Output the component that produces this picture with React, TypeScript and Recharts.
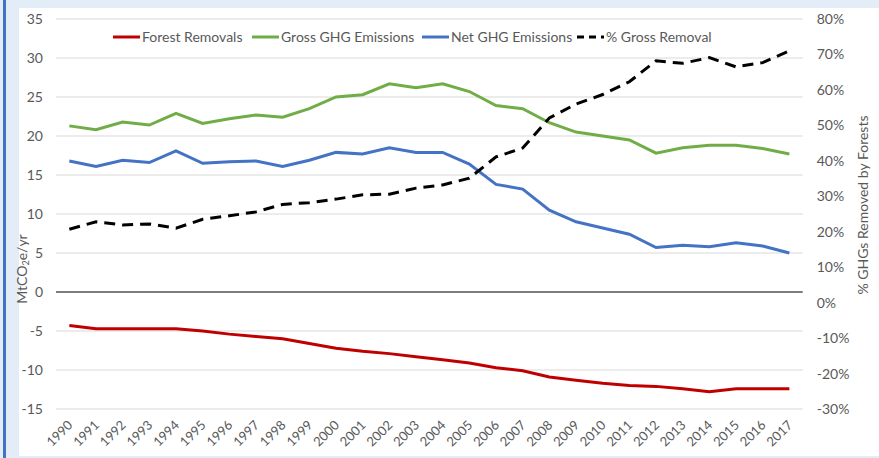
import React from "react";
import { LineChart, Line, XAxis, YAxis, CartesianGrid, ReferenceLine, Legend } from "recharts";

const years = ["1990","1991","1992","1993","1994","1995","1996","1997","1998","1999","2000","2001","2002","2003","2004","2005","2006","2007","2008","2009","2010","2011","2012","2013","2014","2015","2016","2017"];
const forestRemovals = [-4.3,-4.7,-4.7,-4.7,-4.7,-5.0,-5.4,-5.7,-6.0,-6.6,-7.2,-7.6,-7.9,-8.3,-8.7,-9.1,-9.7,-10.1,-10.9,-11.3,-11.7,-12.0,-12.1,-12.4,-12.8,-12.4,-12.4,-12.4];
const grossEmissions = [21.3,20.8,21.8,21.4,22.9,21.6,22.2,22.7,22.4,23.5,25.0,25.3,26.7,26.2,26.7,25.7,23.9,23.5,21.7,20.5,20.0,19.5,17.8,18.5,18.8,18.8,18.4,17.7];
const netEmissions = [16.8,16.1,16.9,16.6,18.1,16.5,16.7,16.8,16.1,16.9,17.9,17.7,18.5,17.9,17.9,16.4,13.8,13.2,10.5,9.0,8.2,7.4,5.7,6.0,5.8,6.3,5.9,5.0];
const pctGrossRemoval = [20.7,22.8,21.9,22.2,21.0,23.5,24.5,25.6,27.7,28.2,29.2,30.4,30.6,32.3,33.2,35.1,41.1,43.6,52.1,56.0,58.7,62.3,68.2,67.5,69.1,66.5,67.7,71.0];

const leftTicks = [-15,-10,-5,0,5,10,15,20,25,30,35];
const rightTicks = [-30,-20,-10,0,10,20,30,40,50,60,70,80];

const seriesNames = ["Forest Removals","Gross GHG Emissions","Net GHG Emissions","% Gross Removal"];

const data = years.map((y, i) => ({
  year: y,
  removals: forestRemovals[i],
  gross: grossEmissions[i],
  net: netEmissions[i],
  pct: pctGrossRemoval[i],
}));

const FONT = "Lato, 'Open Sans', sans-serif";
const GREY = "#595959";
const RED = "#c00000";
const GREEN = "#70ad47";
const BLUE = "#4472c4";

const XTick = (props: any) => {
  const { x, y, payload } = props;
  return (
    <g transform={`translate(${x + 4},${y + 17})`}>
      <text x={0} y={0} textAnchor="end" fill={GREY} fontSize={13} fontFamily={FONT} transform="rotate(-45)">
        {payload.value}
      </text>
    </g>
  );
};

const legendItems = [
  { name: seriesNames[0], color: RED, dash: undefined as string | undefined, width: 139 },
  { name: seriesNames[1], color: GREEN, dash: undefined, width: 170 },
  { name: seriesNames[2], color: BLUE, dash: undefined, width: 155 },
  { name: seriesNames[3], color: "#000000", dash: "7 5", width: 150 },
];

const renderLegend = () => (
  <div style={{ display: "flex", alignItems: "center", fontFamily: FONT, fontSize: 14, color: GREY, whiteSpace: "nowrap" }}>
    {legendItems.map((it) => (
      <div key={it.name} style={{ width: it.width, display: "flex", alignItems: "center" }}>
        <svg width={27} height={6} style={{ marginRight: 2 }}>
          <line x1={0} y1={3} x2={27} y2={3} stroke={it.color} strokeWidth={3} strokeDasharray={it.dash} />
        </svg>
        <span style={{ lineHeight: "20px" }}>{it.name}</span>
      </div>
    ))}
  </div>
);

const LeftLabel = () => (
  <text x={13} y={269} transform="rotate(-90, 13, 269)" textAnchor="middle" dominantBaseline="central" fill={GREY} fontSize={14} fontFamily={FONT}>
    MtCO<tspan fontSize={9} dy={4}>2</tspan><tspan dy={-4}>e/yr</tspan>
  </text>
);

const RightLabel = () => (
  <text x={854} y={205} transform="rotate(-90, 854, 205)" textAnchor="middle" dominantBaseline="central" fill={GREY} fontSize={14} fontFamily={FONT}>
    % GHGs Removed by Forests
  </text>
);

export default function App() {
  return (
    <div style={{ position: "absolute", left: 0, top: 0, width: 879, height: 458, background: "#e3edf8", overflow: "hidden" }}>
      <div style={{ position: "absolute", left: 3, top: 0, width: 3, height: 458, background: "#4472c4" }} />
      <div style={{ position: "absolute", left: 19, top: 8, width: 860, height: 448, background: "#ffffff" }} />
      <div style={{ position: "absolute", left: 8, top: 0 }}>
        <LineChart width={871} height={458} data={data} margin={{ top: 19, right: 0, bottom: 0, left: 0 }}>
          <CartesianGrid yAxisId="left" vertical={false} stroke="#d9d9d9" strokeWidth={1} />
          <XAxis
            dataKey="year"
            interval={0}
            tick={<XTick />}
            tickLine={false}
            axisLine={false}
            tickSize={0}
            tickMargin={0}
            height={49}
            padding={{ left: 13.33, right: 13.33 }}
          />
          <YAxis
            yAxisId="left"
            orientation="left"
            domain={[-15, 35]}
            ticks={leftTicks}
            interval={0}
            width={48}
            axisLine={false}
            tickLine={false}
            tickSize={0}
            tickMargin={13}
            tick={{ fill: GREY, fontSize: 14, fontFamily: FONT }}
            label={<LeftLabel />}
          />
          <YAxis
            yAxisId="right"
            orientation="right"
            domain={[-30, 80]}
            ticks={rightTicks}
            interval={0}
            width={76.3}
            axisLine={false}
            tickLine={false}
            tickSize={0}
            tickMargin={14}
            tickFormatter={(v: number) => `${v}%`}
            tick={{ fill: GREY, fontSize: 14, fontFamily: FONT }}
            label={<RightLabel />}
          />
          <ReferenceLine yAxisId="left" y={0} stroke={GREY} strokeWidth={1.5} />
          <Legend content={renderLegend} layout="horizontal" verticalAlign="middle" wrapperStyle={{ top: 27, left: 105, width: "auto" }} />
          <Line yAxisId="left" type="linear" dataKey="removals" name={seriesNames[0]} stroke={RED} strokeWidth={3} dot={false} isAnimationActive={false} />
          <Line yAxisId="left" type="linear" dataKey="gross" name={seriesNames[1]} stroke={GREEN} strokeWidth={3} dot={false} isAnimationActive={false} />
          <Line yAxisId="left" type="linear" dataKey="net" name={seriesNames[2]} stroke={BLUE} strokeWidth={3} dot={false} isAnimationActive={false} />
          <Line yAxisId="right" type="linear" dataKey="pct" name={seriesNames[3]} stroke="#000000" strokeWidth={3} strokeDasharray="11 7" dot={false} isAnimationActive={false} />
        </LineChart>
      </div>
    </div>
  );
}
